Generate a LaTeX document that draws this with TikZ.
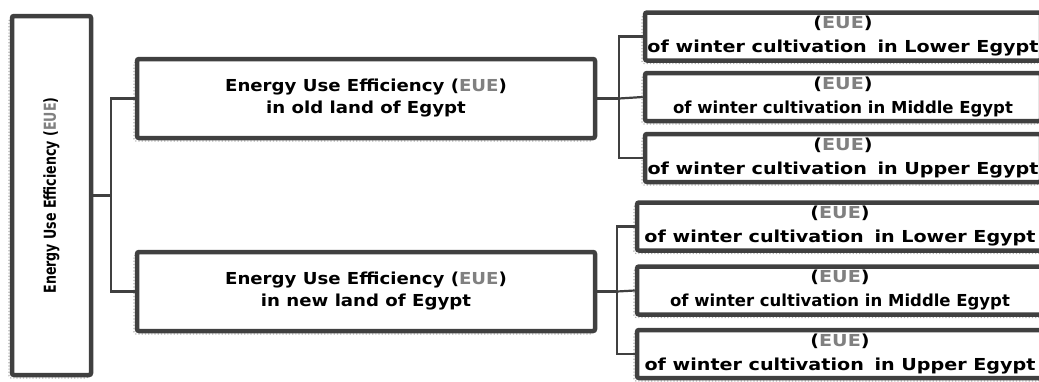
\documentclass[tikz,border=0pt]{standalone}
\usepackage{fontspec}
\newfontfamily\rwfont[FakeStretch=1.16]{DejaVu Sans Bold}
\newfontfamily\rfont{DejaVu Sans Bold}
\newfontfamily\mfont[FakeStretch=1.1]{DejaVu Sans Bold}
\newfontfamily\cfont[FakeStretch=0.85]{DejaVu Sans Condensed Bold}
\definecolor{bord}{HTML}{404040}
\definecolor{eue}{HTML}{808080}
\definecolor{shad}{HTML}{B0B0B0}
\newcommand{\EUE}{(\textcolor{eue}{EUE})}
\tikzset{
  box/.style={draw=bord, line width=4.5pt, fill=white, rounded corners=2pt, inner sep=0pt, align=center,
    preaction={draw=shad, line width=1.2pt, dotted, fill=none, transform canvas={shift={(-3pt,-3pt)}}}},
  rootbox/.style={box, minimum width=79pt, minimum height=359pt},
  midbox/.style={box, minimum width=458pt, minimum height=79pt, font=\mfont\fontsize{16.5}{22}\selectfont},
  leaf/.style={box, minimum height=48pt, font=\rwfont\fontsize{16.5}{24}\selectfont},
  leafa/.style={leaf, minimum width=396pt},
  leafb/.style={leaf, minimum width=406pt},
  conn/.style={draw=bord, line width=2.2pt}
}
\begin{document}
\begin{tikzpicture}[x=1pt,y=-1pt]
\useasboundingbox (0,0) rectangle (1039,381);
\clip (0,0) rectangle (1039,381);
\node[rootbox] (root) at (51.5,195.5) {\rotatebox{90}{\cfont\fontsize{16.5}{18}\selectfont Energy Use Efficiency \EUE}};
\node[midbox] (old) at (366,98.5) {Energy Use Efficiency \EUE\\in old land of Egypt};
\node[midbox] (new) at (366,291.5) {Energy Use Efficiency \EUE\\in new land of Egypt};
\node[leafa] (a1) at (843,36.5) {\EUE\\of winter cultivation\hspace{4pt} in Lower Egypt};
\node[leafa] (a2) at (843,97) {\EUE\\{\rfont of winter cultivation in Middle Egypt}};
\node[leafa] (a3) at (843,158) {\EUE\\of winter cultivation\hspace{4pt} in Upper Egypt};
\node[leafb] (b1) at (840,226.5) {\EUE\\of winter cultivation\hspace{4pt} in Lower Egypt};
\node[leafb] (b2) at (840,290.5) {\EUE\\{\rfont of winter cultivation in Middle Egypt}};
\node[leafb] (b3) at (840,354) {\EUE\\of winter cultivation\hspace{4pt} in Upper Egypt};
\coordinate (j0) at (111,195.5);
\coordinate (j1) at (619,98.5);
\coordinate (j2) at (617,291.5);
\draw[conn] (root.east) -- (j0);
\draw[conn] (old.west) -| (j0) |- (new.west);
\draw[conn] (old.east) -- (j1);
\draw[conn] (a1.west) -| (j1) |- (a3.west);
\draw[conn] (j1) -- (a2.west);
\draw[conn] (new.east) -- (j2);
\draw[conn] (b1.west) -| (j2) |- (b3.west);
\draw[conn] (j2) -- (b2.west);
\end{tikzpicture}
\end{document}
